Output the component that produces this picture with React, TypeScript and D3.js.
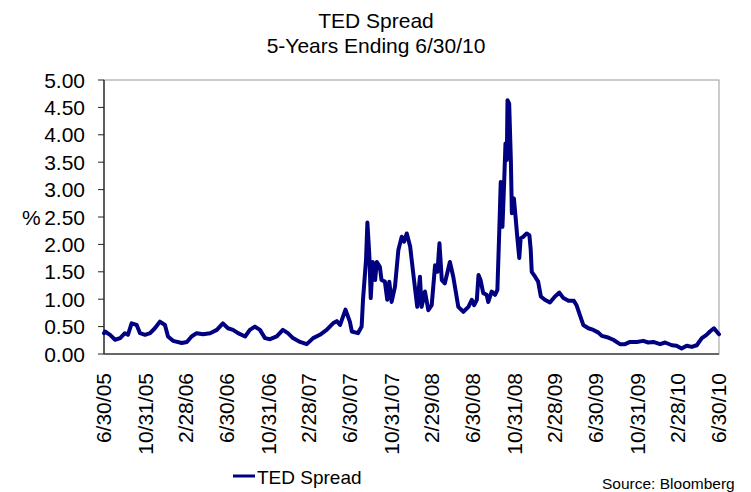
import React from "react";
import * as d3 from "d3";

const dates: string[] = [
  "2005-06-30","2005-07-03","2005-07-18","2005-08-02","2005-08-17","2005-08-31","2005-09-09","2005-09-20",
  "2005-10-05","2005-10-15","2005-10-30","2005-11-14","2005-11-28","2005-12-13","2005-12-28",
  "2006-01-06","2006-01-21","2006-02-16","2006-03-03","2006-03-17","2006-04-01","2006-04-20",
  "2006-05-11","2006-05-31","2006-06-18","2006-07-03","2006-07-18","2006-08-02","2006-08-23",
  "2006-09-06","2006-09-21","2006-10-06","2006-10-21","2006-11-05","2006-11-25","2006-12-13","2006-12-28",
  "2007-01-12","2007-02-02","2007-02-22","2007-03-13","2007-04-02","2007-04-22","2007-05-11","2007-05-22",
  "2007-06-01","2007-06-17","2007-06-30","2007-07-06","2007-07-24","2007-08-04","2007-08-08","2007-08-17",
  "2007-08-21","2007-08-27","2007-08-31","2007-09-06","2007-09-13","2007-09-18","2007-09-27","2007-10-02",
  "2007-10-12","2007-10-19","2007-10-25","2007-11-01","2007-11-11","2007-11-21","2007-12-01","2007-12-08",
  "2007-12-16","2007-12-26","2008-01-04","2008-01-16","2008-01-24","2008-01-29","2008-02-08","2008-02-18",
  "2008-02-28","2008-03-09","2008-03-16","2008-03-22","2008-03-29","2008-04-07","2008-04-22","2008-05-02",
  "2008-05-17","2008-06-01","2008-06-16","2008-06-26","2008-07-03","2008-07-11","2008-07-16","2008-07-22",
  "2008-07-30","2008-08-09","2008-08-14","2008-08-24","2008-09-03","2008-09-10","2008-09-16","2008-09-20",
  "2008-09-25","2008-09-30","2008-10-04","2008-10-08","2008-10-10","2008-10-15","2008-10-20","2008-10-23",
  "2008-10-29","2008-11-03","2008-11-08","2008-11-14","2008-11-18","2008-11-26","2008-12-06","2008-12-14",
  "2008-12-18","2008-12-21","2008-12-31","2009-01-09","2009-01-17","2009-01-29","2009-02-13","2009-02-28",
  "2009-03-13","2009-03-25","2009-04-09","2009-04-25","2009-05-03","2009-05-13","2009-05-23","2009-06-07",
  "2009-06-22","2009-07-07","2009-07-17","2009-08-05","2009-08-20","2009-09-09","2009-09-24","2009-10-09",
  "2009-10-29","2009-11-17","2009-12-02","2009-12-17","2010-01-06","2010-01-21","2010-02-10","2010-02-24",
  "2010-03-11","2010-03-26","2010-04-10","2010-04-25","2010-05-10","2010-05-24","2010-06-03","2010-06-15",
  "2010-06-23","2010-06-30",
];

const values: number[] = [
  0.38,0.41,0.35,0.26,0.29,0.38,0.35,0.56,
  0.53,0.38,0.35,0.38,0.47,0.59,0.53,
  0.32,0.24,0.20,0.22,0.32,0.38,0.36,
  0.38,0.44,0.56,0.47,0.44,0.38,0.32,
  0.44,0.50,0.44,0.29,0.27,0.32,0.44,0.38,
  0.29,0.22,0.18,0.29,0.35,0.44,0.56,0.60,
  0.53,0.81,0.59,0.41,0.38,0.50,0.99,1.72,
  2.40,1.78,1.02,1.68,1.35,1.68,1.59,1.35,
  1.32,0.99,1.32,0.95,1.23,1.90,2.14,2.05,
  2.20,1.96,1.48,0.86,1.41,0.86,1.14,0.80,
  0.89,1.62,1.50,2.02,1.35,1.29,1.68,1.41,
  0.86,0.77,0.86,0.99,0.89,0.99,1.44,1.35,
  1.11,1.08,0.95,1.14,1.08,1.17,2.32,3.14,
  2.32,3.11,3.84,3.54,4.63,4.57,3.54,2.57,
  2.84,2.50,2.14,1.75,2.11,2.14,2.20,2.17,
  1.90,1.50,1.41,1.32,1.05,0.99,0.94,1.05,
  1.12,1.02,0.97,0.97,0.89,0.71,0.53,0.47,
  0.44,0.39,0.33,0.30,0.26,0.18,0.18,0.22,
  0.22,0.24,0.21,0.22,0.18,0.21,0.16,0.15,
  0.10,0.15,0.13,0.16,0.29,0.35,0.41,0.47,
  0.41,0.36,
];

const yTicks: number[] = [0, 0.5, 1, 1.5, 2, 2.5, 3, 3.5, 4, 4.5, 5];
const xTickDates: string[] = [
  "2005-06-30","2005-10-31","2006-02-28","2006-06-30","2006-10-31","2007-02-28","2007-06-30","2007-10-31",
  "2008-02-29","2008-06-30","2008-10-31","2009-02-28","2009-06-30","2009-10-31","2010-02-28","2010-06-30",
];
const xTickLabels: string[] = [
  "6/30/05","10/31/05","2/28/06","6/30/06","10/31/06","2/28/07","6/30/07","10/31/07",
  "2/29/08","6/30/08","10/31/08","2/28/09","6/30/09","10/31/09","2/28/10","6/30/10",
];

const seriesName = "TED Spread";
const title1 = "TED Spread";
const title2 = "5-Years Ending 6/30/10";
const source = "Source: Bloomberg";

const W = 751, H = 492;
const left = 104, right = 719, top = 80, bottom = 354;
const FONT = "'Liberation Sans', Arial, sans-serif";
const NAVY = "#000080";

export default function App() {
  const parse = d3.utcParse("%Y-%m-%d");
  const x = d3.scaleUtc()
    .domain([parse("2005-06-30")!, parse("2010-06-30")!])
    .range([left, right]);
  const y = d3.scaleLinear().domain([0, 5]).range([bottom, top]);
  const pts = dates.map((d, i) => ({ d: parse(d)!, v: values[i] }));
  const line = d3.line<{ d: Date; v: number }>()
    .x((p) => x(p.d))
    .y((p) => y(p.v));

  return (
    <svg width={W} height={H} style={{ position: "absolute", left: 0, top: 0, background: "#fff" }} fontFamily={FONT}>
      <rect x={0} y={0} width={W} height={H} fill="#fff" />
      <text x={376} y={28} textAnchor="middle" fontSize={21} fill="#000">{title1}</text>
      <text x={376} y={53} textAnchor="middle" fontSize={21} fill="#000">{title2}</text>

      {/* plot frame */}
      <rect x={left} y={top} width={right - left} height={bottom - top} fill="none" stroke="#9a9a9a" strokeWidth={1} />
      <line x1={left} x2={left} y1={top} y2={bottom} stroke="#222" strokeWidth={1.3} />
      <line x1={left} x2={right} y1={bottom} y2={bottom} stroke="#444" strokeWidth={1.3} />

      {yTicks.map((t) => (
        <g key={t}>
          <line x1={left - 6} x2={left} y1={y(t)} y2={y(t)} stroke="#222" strokeWidth={1} />
          <text x={85} y={y(t)} dy="0.36em" textAnchor="end" fontSize={21} fill="#000">{t.toFixed(2)}</text>
        </g>
      ))}
      <text x={22} y={y(2.5)} dy="0.36em" fontSize={21} fill="#000">%</text>

      {xTickDates.map((d, i) => {
        const px = x(parse(d)!);
        return (
          <text key={d} transform={`translate(${px},373) rotate(-90)`} dy="0.35em" textAnchor="end" fontSize={21} fill="#000">
            {xTickLabels[i]}
          </text>
        );
      })}

      <path d={line(pts) || ""} fill="none" stroke={NAVY} strokeWidth={4} strokeLinejoin="round" strokeLinecap="round" />

      <line x1={233} x2={255} y1={476} y2={476} stroke={NAVY} strokeWidth={3} />
      <text x={257} y={484} fontSize={19} fill="#000">{seriesName}</text>
      <text x={602} y={489} fontSize={15.5} fill="#000">{source}</text>
    </svg>
  );
}
